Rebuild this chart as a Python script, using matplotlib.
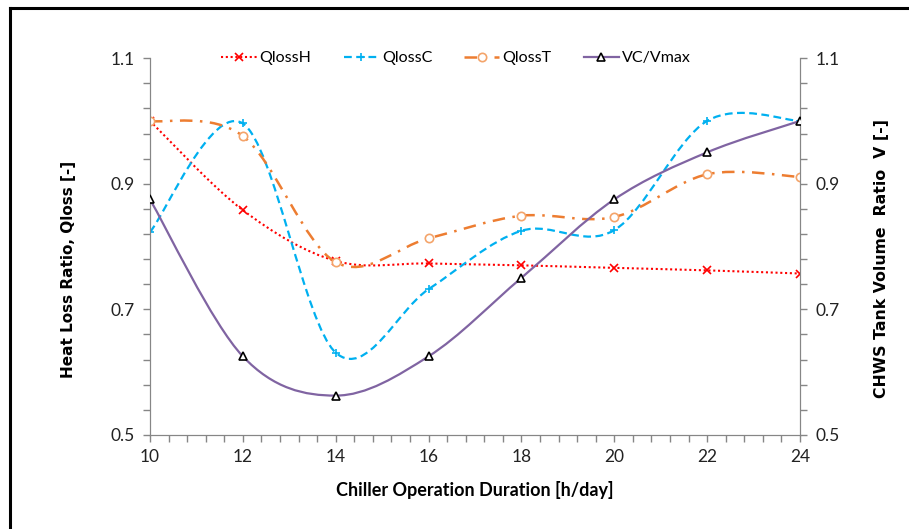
import numpy as np
import matplotlib
matplotlib.use("Agg")
import matplotlib.pyplot as plt
from matplotlib.path import Path
from matplotlib.patches import PathPatch
from matplotlib.lines import Line2D
from matplotlib.ticker import MultipleLocator, FixedLocator

# Données
hours = [10, 12, 14, 16, 18, 20, 22, 24]
qloss_h = [1.000, 0.858, 0.777, 0.773, 0.770, 0.766, 0.762, 0.757]
qloss_c = [0.823, 0.996, 0.631, 0.732, 0.825, 0.826, 1.000, 1.000]
qloss_t = [1.000, 0.976, 0.775, 0.813, 0.849, 0.847, 0.915, 0.911]
vc_vmax = [0.875, 0.625, 0.5625, 0.625, 0.750, 0.875, 0.950, 1.000]
y_ticks = [0.5, 0.7, 0.9, 1.1]
y_tick_labels = ["0.5", "0.7", "0.9", "1.1"]

grey = "#868686"
tick_font = "Lato"


def smooth_path(x, y):
    # courbe lissée style Excel (Bezier type Catmull-Rom)
    x = np.asarray(x, float)
    y = np.asarray(y, float)
    n = len(x)
    verts = [(x[0], y[0])]
    codes = [Path.MOVETO]
    for i in range(n - 1):
        i0 = max(i - 1, 0)
        i3 = min(i + 2, n - 1)
        c1 = (x[i] + (x[i + 1] - x[i0]) / 6, y[i] + (y[i + 1] - y[i0]) / 6)
        c2 = (x[i + 1] - (x[i3] - x[i]) / 6, y[i + 1] - (y[i3] - y[i]) / 6)
        verts += [c1, c2, (x[i + 1], y[i + 1])]
        codes += [Path.CURVE4] * 3
    return Path(verts, codes)


fig = plt.figure(figsize=(9.09, 5.29), dpi=100)
ax = fig.add_axes([0.165, 0.178, 0.715, 0.712])
ax2 = ax.twinx()

series = [
    (ax, qloss_h, "QlossH", "#ff0000", (0, (1, 1.3)), 1.5, "x", "#ff0000", 6),
    (ax, qloss_c, "QlossC", "#00b0f0", (0, (3.5, 2)), 1.6, "+", "#00b0f0", 6),
    (ax, qloss_t, "QlossT", "#ed7d31", (0, (5, 3, 1, 3)), 1.8, "o", "#f4a46a", 6),
    (ax2, vc_vmax, "VC/Vmax", "#8064a2", "-", 1.6, "^", "#000000", 5.5),
]

handles = []
for a, vals, name, col, ls, lw, mk, mec, ms in series:
    a.add_patch(PathPatch(smooth_path(hours, vals), facecolor="none", edgecolor=col,
                          linestyle=ls, linewidth=lw, zorder=3))
    a.plot(hours, vals, linestyle="none", marker=mk, markeredgecolor=mec,
           markerfacecolor="white", markersize=ms, markeredgewidth=1.2, zorder=4)
    handles.append(Line2D([], [], color=col, linestyle=ls, linewidth=lw, marker=mk,
                          markeredgecolor=mec, markerfacecolor="white",
                          markersize=ms, markeredgewidth=1.2, label=name))

for a in (ax, ax2):
    a.set_ylim(0.5, 1.1)
    a.set_xlim(10, 24)
    a.yaxis.set_major_locator(FixedLocator(y_ticks))
    a.yaxis.set_minor_locator(MultipleLocator(0.04, offset=0.02))
    a.set_yticklabels(y_tick_labels)
    for s in a.spines.values():
        s.set_color(grey)
    a.spines["top"].set_visible(False)
    a.tick_params(which="both", direction="out", color=grey, length=5, width=1)
    a.tick_params(axis="y", labelsize=12.5, pad=6)

ax.xaxis.set_major_locator(MultipleLocator(2))
ax.xaxis.set_minor_locator(MultipleLocator(0.4))
ax.tick_params(axis="x", labelsize=12.5, pad=5)
ax2.tick_params(axis="y", which="both", left=False, right=True)

for lab in ax.get_xticklabels() + ax.get_yticklabels() + ax2.get_yticklabels():
    lab.set_fontfamily(tick_font)
    lab.set_color("#222222")

ax.set_xlabel("Chiller Operation Duration [h/day]", fontsize=13, fontweight="bold",
              family=tick_font, labelpad=12)
ax.set_ylabel("Heat Loss Ratio, Qloss [-]", fontsize=11, fontweight="bold",
              family="DejaVu Sans")
ax2.set_ylabel("CHWS Tank Volume  Ratio  V [-]", fontsize=11.3, fontweight="bold",
               family="DejaVu Sans", rotation=90)
ax.yaxis.set_label_coords(-0.126, 0.438)
ax.yaxis.label.set_va("center")
ax2.yaxis.set_label_coords(1.125, 0.467)
ax2.yaxis.label.set_va("center")

ax.legend(handles=handles, loc="center", bbox_to_anchor=(0.471, 1.0), ncol=4,
          frameon=False, prop={"family": tick_font, "size": 11.5}, handlelength=2.2,
          handletextpad=0.2, columnspacing=2.0)

# cadre
fig.add_artist(Line2D([10 / 909, 10 / 909], [0, 1 - 8 / 529], color="black", lw=2.2))
fig.add_artist(Line2D([10 / 909, 1], [1 - 8 / 529, 1 - 8 / 529], color="black", lw=2.2))

fig.savefig("out.png", dpi=100)
